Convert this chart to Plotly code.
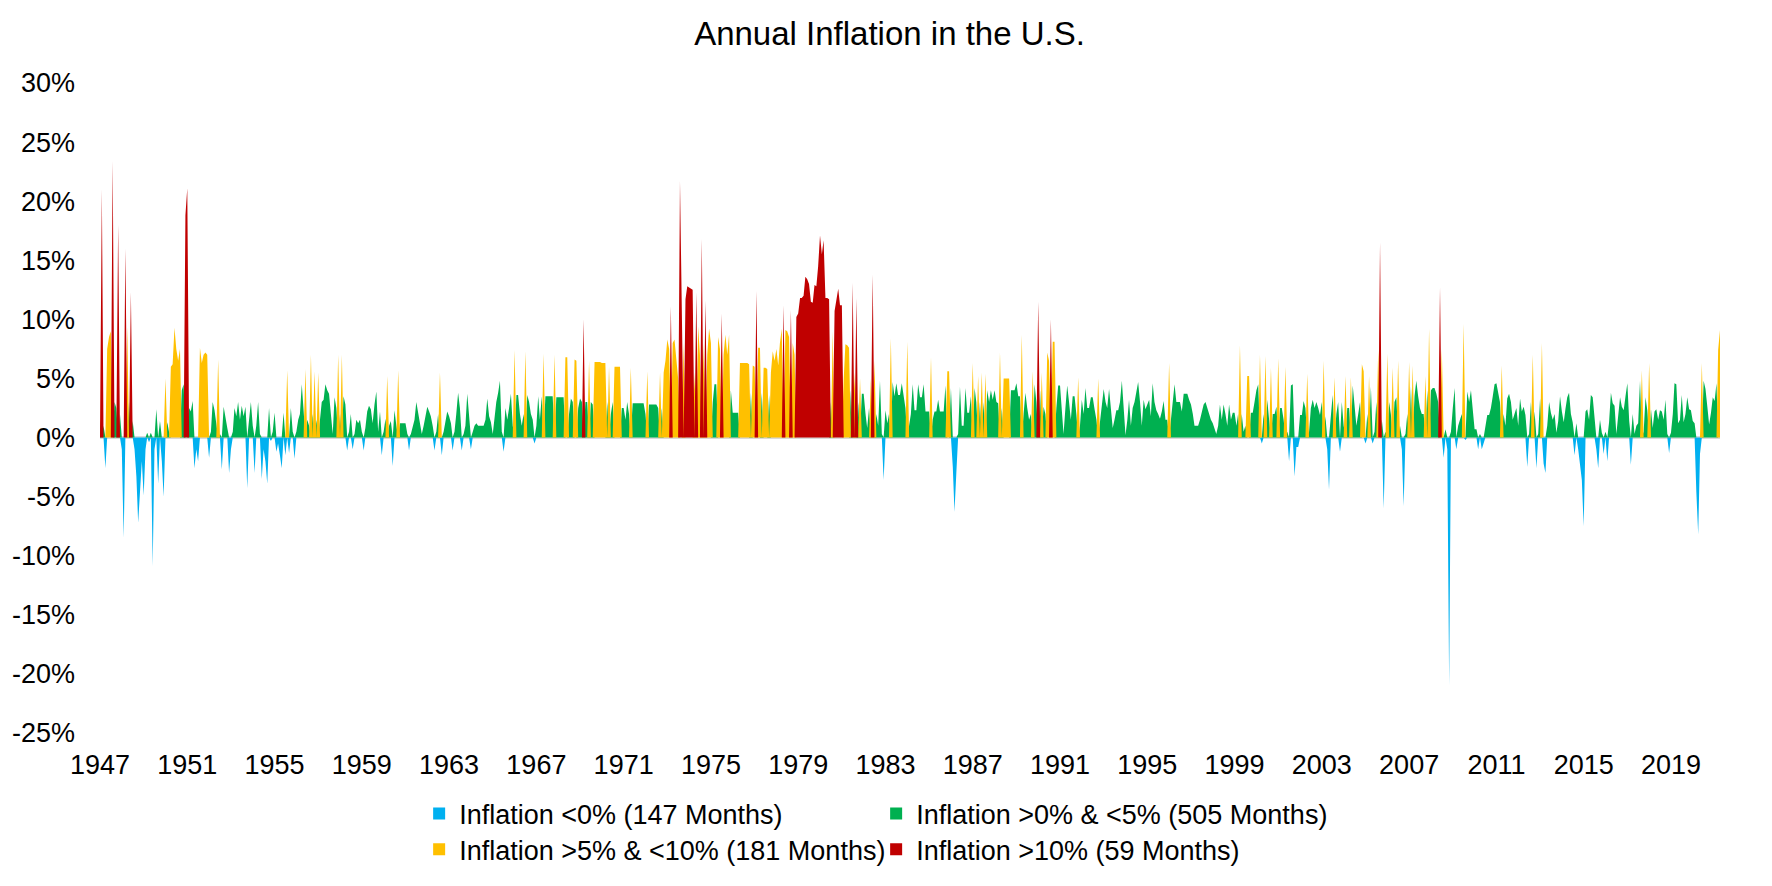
import numpy as np
import pandas as pd
import plotly.graph_objects as go

# Monthly annualized U.S. inflation (%)
infl_1940s = [
    1.5, 21.0, 1.0, -2.6, 7.5, 8.5, 9.0, 23.4, 3.0, 2.5, 18.0, 2.0,
    -1.0, -8.5, 16.0, 9.4, 3.0, 12.3, 1.4, -1.0, -3.3, -7.2, -4.0, -2.0,
    -4.9, -1.0, 0.4, -0.4, 0.4, -10.9, -1.0, 2.4, -3.9, 1.4, -2.0, -5.0,
]
infl_1950s = [
    5.0, 1.3, 0.5, 6.0, 6.2, 9.3, 7.5, 6.5, 7.5, 4.0, 4.5, 18.8,
    21.1, 2.5, 2.2, 3.1, -2.6, -1.0, -2.0, 7.6, 6.3, 7.0, 7.2, 7.0,
    -1.7, 0.5, 3.0, 2.3, 1.0, 6.6, 0.3, -2.7, 2.6, 1.5, 0.8, -3.0,
    -1.0, 0.5, 2.5, 1.8, 3.0, 1.5, 2.7, 1.8, 2.6, -4.3, 1.5, 3.0,
    1.0, -3.0, 1.0, 3.0, 0.3, -3.5, -1.0, -2.0, -3.9, 2.5, -0.3, 0.5,
    2.1, -1.2, -0.5, -1.5, -2.6, 2.1, -1.5, 5.7, -1.3, 2.5, 0.5, -1.8,
    0.5, 1.5, 2.0, 4.5, 2.0, 5.8, 1.5, 1.0, 7.0, 2.0, 5.6, 1.5,
    5.5, 2.0, 3.0, 3.2, 4.5, 4.0, 3.7, 2.0, 0.3, 3.4, 2.5, 7.0,
    2.0, 7.0, 3.5, 2.8, -1.1, 0.5, 2.0, -1.0, 0.3, 1.5, 1.2, 1.5,
    0.5, -1.1, 0.8, 2.2, 2.7, 2.4, 1.2, 2.8, 3.9, 0.5, 2.2, -1.5,
]
infl_1960s = [
    0.5, 1.6, 5.2, 1.0, 1.4, -2.4, 2.3, 1.0, 5.7, 1.2, 1.2, 1.2,
    1.2, 0.3, -1.1, 0.3, 1.0, 1.5, 3.0, 2.0, 1.4, 0.3, 1.0, 1.8,
    2.6, 2.2, 1.8, 1.0, -1.1, 0.5, 2.0, 5.5, -1.5, 0.5, 1.5, 2.2,
    1.8, 1.2, -1.1, 0.5, 2.0, 3.8, 2.5, -1.1, 0.3, 1.0, 3.7, 1.5,
    -1.0, 0.5, 1.0, 1.2, 1.0, 1.0, 1.0, 1.0, 1.5, 3.3, 1.8, 1.3,
    0.3, 2.0, 3.0, 3.8, 4.8, 0.5, -1.2, 2.5, 1.5, 2.5, 3.7, 1.0,
    7.4, 3.6, 3.6, 2.0, 1.0, 2.0, 7.3, 3.6, 3.0, 2.0, 1.5, -0.5,
    1.0, 3.5, 1.5, 3.5, 7.1, 3.5, 3.5, 3.5, 3.5, 3.5, 7.0, 3.4,
    3.4, 3.4, 3.4, 3.4, 6.8, 6.8, 2.0, 3.3, 3.0, 6.6, 6.5, 2.5,
    3.3, 3.0, 10.0, 3.0, 3.0, 6.5, 3.0, 2.8, 6.4, 6.4, 6.4, 6.4,
]
infl_1970s = [
    6.3, 6.3, 6.3, 3.0, 6.0, 2.0, 3.0, 6.0, 6.0, 6.0, 6.0, 2.5,
    2.5, 1.5, 3.0, 2.0, 5.9, 2.9, 2.9, 2.9, 2.9, 2.9, 2.9, 2.9,
    2.0, 5.6, 2.8, 2.8, 2.8, 2.8, 2.8, 2.5, 5.5, 2.5, 5.5, 6.5,
    8.3, 7.5, 11.1, 8.0, 8.3, 6.5, 5.0, 21.7, 10.7, 8.0, 11.7, 12.8,
    12.7, 12.6, 12.5, 5.5, 12.3, 9.4, 7.0, 16.8, 8.0, 11.6, 7.0, 9.2,
    8.0, 3.0, 4.5, 4.5, 8.5, 7.5, 10.5, 7.0, 8.7, 7.0, 8.7, 4.0,
    2.1, 2.1, 2.1, 2.1, 6.3, 6.3, 6.3, 6.3, 6.3, 6.2, 3.8, 6.1,
    6.0, 12.4, 7.6, 7.6, 3.8, 5.9, 5.9, 5.8, 3.6, 5.5, 7.3, 6.5,
    7.5, 6.1, 8.0, 9.2, 11.2, 9.1, 9.0, 8.5, 10.8, 8.0, 7.0, 10.2,
    10.5, 11.8, 11.8, 12.0, 13.6, 13.4, 13.0, 11.5, 11.4, 12.9, 12.8, 14.5,
]
infl_1980s = [
    17.1, 15.5, 16.7, 11.8, 11.8, 11.7, 3.0, 9.0, 10.7, 11.5, 12.6, 11.2,
    11.2, 5.0, 7.9, 7.8, 7.6, 4.0, 13.1, 5.5, 11.8, 3.0, 5.0, 3.7,
    3.7, 2.0, 0.8, 2.5, 5.0, 13.8, 6.5, 2.0, 1.0, 4.8, 0.3, -3.6,
    2.3, 1.2, 2.0, 8.4, 4.7, 3.5, 4.6, 3.6, 3.6, 4.6, 3.6, 2.5,
    8.1, 1.0, 2.0, 4.5, 2.3, 2.3, 4.5, 3.4, 3.4, 4.5, 2.2, 2.2,
    2.2, 6.8, 1.5, 2.2, 2.2, 3.2, 2.2, 2.2, 2.2, 4.4, 5.6, 5.6,
    4.2, -2.5, -6.3, -3.0, 0.3, 4.3, 1.0, 1.0, 4.2, 2.1, 2.1, 3.5,
    6.3, 4.2, 3.0, 5.2, 3.0, 5.5, 3.0, 5.4, 4.0, 3.0, 4.0, 3.2,
    4.0, 3.0, 2.9, 7.2, 2.5, 5.0, 5.0, 5.0, 5.0, 4.0, 4.0, 4.0,
    4.6, 3.5, 3.5, 8.7, 2.0, 3.8, 2.5, 1.5, 2.0, 5.6, 4.5, 3.0,
]
infl_1990s = [
    11.5, 4.0, 5.5, 2.6, 2.0, 7.2, 6.5, 10.0, 8.1, 8.1, 2.5, 4.4,
    4.4, 2.0, 0.3, 2.5, 4.4, 3.0, 1.5, 3.5, 3.5, 2.0, 5.1, 1.0,
    3.2, 2.0, 4.2, 2.5, 2.5, 3.4, 3.4, 2.4, 1.5, 5.0, 1.5, 2.5,
    4.1, 3.0, 2.5, 4.1, 2.5, 0.8, 1.5, 2.3, 2.3, 3.0, 4.8, 2.5,
    0.2, 1.5, 3.2, 1.0, 2.5, 3.0, 4.0, 4.7, 3.0, 1.0, 3.2, 2.4,
    2.8, 3.2, 1.8, 4.6, 3.0, 2.3, 2.0, 1.6, 2.2, 3.1, 1.5, 1.5,
    6.3, 1.5, 3.0, 4.5, 3.0, 3.0, 3.0, 2.2, 3.7, 3.7, 3.7, 3.2,
    2.8, 2.0, 1.0, 1.0, 1.0, 1.5, 2.2, 2.8, 3.0, 2.5, 2.0, 1.5,
    1.2, 0.6, 0.3, 1.0, 2.8, 1.5, 2.8, 2.0, 1.0, 2.8, 1.5, 2.1,
    2.1, 1.0, 2.0, 7.8, 2.0, 0.5, 1.0, 5.2, 5.2, 2.1, 2.1, 3.0,
]
infl_2000s = [
    4.0, 4.5, 7.0, -0.5, 2.0, 6.9, 3.2, 1.5, 5.9, 2.0, 2.0, 2.6,
    6.7, 2.5, 2.5, 1.5, 6.0, 0.5, -2.0, 4.4, 4.5, -3.3, -0.8, -0.8,
    1.9, 1.9, 3.1, 2.5, 5.4, 0.5, 2.5, 3.2, 2.5, 3.0, 2.5, 1.9,
    3.0, 6.5, 1.8, -1.0, -4.4, 2.0, 3.6, 5.1, 2.0, 3.0, -1.2, 3.0,
    1.0, 5.2, 2.5, 2.5, 5.1, 4.4, 3.0, 1.0, 2.0, 3.0, 6.2, 5.6,
    -0.5, 2.0, 5.2, 4.3, -0.5, 0.5, 3.0, 7.4, 16.5, 1.5, -6.0, 0.5,
    7.1, 3.0, 2.0, 5.9, 3.0, 3.4, 6.5, 1.0, -1.0, -5.8, 0.3, 2.0,
    6.4, 4.3, 6.1, 3.5, 4.8, 3.5, 2.5, 2.0, 2.0, 5.2, 4.0, 9.2,
    4.0, 4.2, 4.2, 3.7, 3.0, 12.7, 7.5, -1.7, 0.7, -1.0, -21.0, 0.5,
    2.5, 4.2, -1.0, 1.0, 1.5, 2.0, 9.6, -0.2, 3.9, 3.0, 4.0, 2.0,
]
infl_2010s = [
    0.7, 0.7, -1.0, 0.3, -1.0, -0.5, 1.0, 1.9, 1.9, 2.5, 3.5, 4.5,
    4.6, 3.8, 3.0, 6.1, 2.0, 1.0, 3.3, 3.7, 3.0, 1.5, 2.0, 2.5,
    1.0, 3.3, 2.2, 2.6, 1.9, -2.5, 0.3, 3.0, 7.0, 2.2, -2.6, 0.3,
    3.3, 8.0, -2.2, -3.0, 1.0, 3.0, 2.1, 1.5, 2.0, 0.4, 1.4, 3.5,
    2.2, 1.3, 2.4, 3.4, 3.8, 2.0, 1.3, -1.5, 1.2, -1.0, -2.5, -3.6,
    -7.5, 2.2, 2.4, 1.5, 3.6, 3.4, 1.4, -1.0, -2.6, 1.5, 0.4, -1.4,
    0.5, -2.0, 1.3, 3.8, 2.9, 2.7, 0.3, 2.2, 3.4, 2.6, 2.3, 3.5,
    4.6, 1.4, -2.3, 2.0, 0.3, 1.0, 1.2, 4.8, 5.7, 0.5, 3.4, 2.3,
    6.3, 2.4, 0.8, 2.2, 2.4, 1.5, 2.3, 2.2, 1.5, 3.2, 0.3, -1.3,
    0.4, 2.0, 4.6, 4.5, 1.2, 1.5, 3.6, 1.3, 2.0, 3.4, 2.4, 2.3,
]
infl_2020s = [
    1.4, 1.2, -4.6, -8.2, -1.4, 6.3, 4.8, 4.1, 2.6, 1.1, 2.1, 3.4,
    3.1, 4.6, 7.4, 9.1,
]

series_names = [
    "Inflation <0% (147 Months)",
    "Inflation >0% & <5% (505 Months)",
    "Inflation >5% & <10% (181 Months)",
    "Inflation >10% (59 Months)",
]
series_colors = ["#00B0F0", "#00B050", "#FFC000", "#C00000"]
legend_rows = ["legend", "legend", "legend2", "legend2"]
y_ticks = [-25, -20, -15, -10, -5, 0, 5, 10, 15, 20, 25, 30]
x_tick_years = list(range(1947, 2020, 4))

values = np.array(infl_1940s + infl_1950s + infl_1960s + infl_1970s +
                  infl_1980s + infl_1990s + infl_2000s + infl_2010s + infl_2020s)
months = pd.date_range("1947-01-01", periods=len(values), freq="MS")

masks = [
    values < 0,
    (values >= 0) & (values < 5),
    (values >= 5) & (values < 10),
    values >= 10,
]

FONT = "Liberation Sans, Arial, sans-serif"
fig = go.Figure()
for name, color, mask in zip(series_names, series_colors, masks):
    fig.add_trace(go.Scatter(
        x=months, y=np.where(mask, values, 0.0),
        mode="lines", line=dict(width=0, color=color),
        fill="tozeroy", fillcolor=color,
        showlegend=False, hoverinfo="skip",
    ))
for name, color, lg in zip(series_names, series_colors, legend_rows):
    fig.add_trace(go.Scatter(
        x=[None], y=[None], mode="markers", name=name, legend=lg,
        marker=dict(symbol="square", size=12, color=color),
    ))

legend_common = dict(orientation="h", xanchor="left", yanchor="middle",
                     entrywidth=412, itemwidth=30,
                     font=dict(size=27, family=FONT, color="#000000"),
                     bgcolor="rgba(0,0,0,0)")

fig.update_layout(
    width=1772, height=886,
    margin=dict(l=100, r=52, t=83, b=149),
    paper_bgcolor="white", plot_bgcolor="white",
    font=dict(family=FONT, size=27, color="#000000"),
    title=dict(text="Annual Inflation in the U.S.", x=0.502, xref="container",
               y=0.962, yref="container", xanchor="center", yanchor="middle",
               font=dict(size=33, color="#000000", family=FONT)),
    legend=dict(x=0.197, y=-0.1245, **legend_common),
    legend2=dict(x=0.197, y=-0.1795, **legend_common),
    xaxis=dict(range=[months[0], months[-1]], showgrid=False, zeroline=False,
               showline=False, ticks="", tickvals=[pd.Timestamp(f"{y}-01-01") for y in x_tick_years],
               ticktext=[str(y) for y in x_tick_years], ticklabelstandoff=13,
               tickfont=dict(size=27), automargin=False),
    yaxis=dict(range=[-25, 30], showgrid=False, zeroline=True, zerolinecolor="#D9D9D9",
               zerolinewidth=2.5, showline=False, ticks="", tickvals=y_ticks,
               ticktext=[f"{v}%" for v in y_ticks], ticklabelstandoff=24,
               tickfont=dict(size=27), layer="above traces", automargin=False),
)

fig.write_html("out.html", config={"displayModeBar": False},
               post_script="document.body.style.margin='0';document.body.style.overflow='hidden';")
